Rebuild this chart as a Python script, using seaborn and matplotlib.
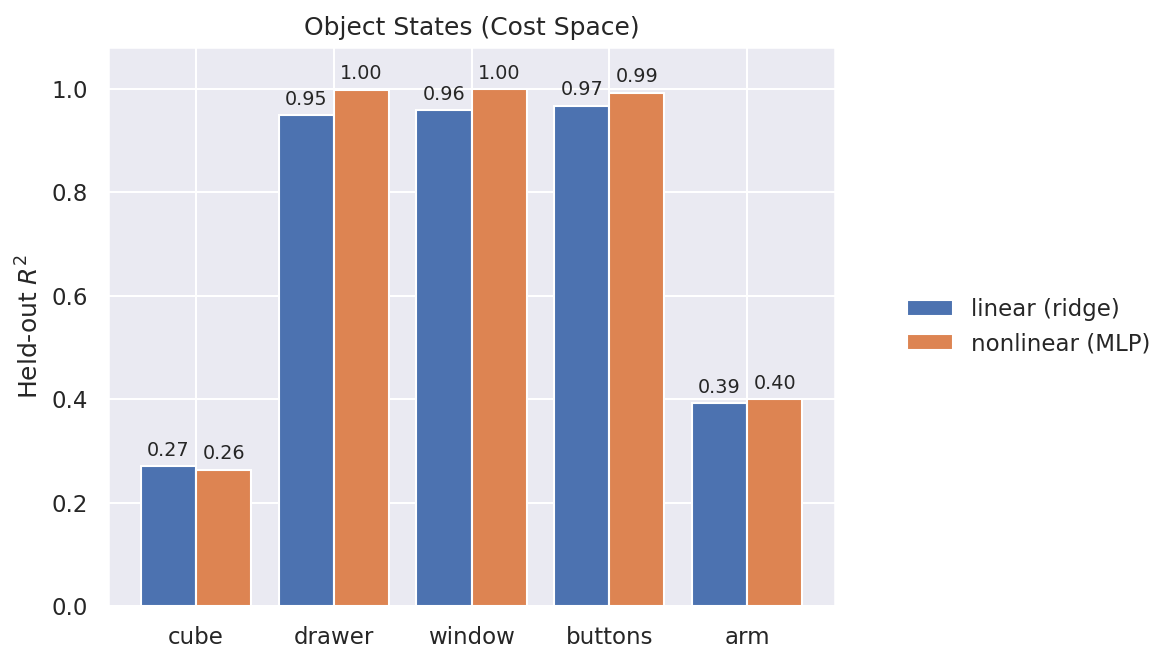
import seaborn as sns
import matplotlib.pyplot as plt
import pandas as pd

sns.set_theme(style="darkgrid", context="notebook")

objects = ["cube", "drawer", "window", "buttons", "arm"]
linear_r2 = [0.270, 0.948, 0.959, 0.967, 0.392]
nonlinear_r2 = [0.264, 0.998, 0.999, 0.992, 0.400]
models = ["linear (ridge)", "nonlinear (MLP)"]

df = pd.DataFrame({
    "object": objects * 2,
    "model": [models[0]] * 5 + [models[1]] * 5,
    "r2": linear_r2 + nonlinear_r2,
})

fig = plt.figure(figsize=(7.82, 4.427), dpi=150)
ax = fig.add_axes([0.092, 0.087, 0.62, 0.842])
sns.barplot(data=df, x="object", y="r2", hue="model", ax=ax,
            edgecolor="white", linewidth=1, saturation=1,
            palette=["#4c72b0", "#dd8452"])

for c in ax.containers:
    ax.bar_label(c, fmt="%.2f", padding=3, fontsize=9.2)

# matplotlib-style margins and x grid like a plain ax.bar chart
ax.set_xlim(-0.64, 4.64)
ax.xaxis.grid(True)
ax.set_ylim(0, 1.08)
ax.set_xlabel("")
ax.set_ylabel("Held-out $R^2$")
ax.set_title("Object States (Cost Space)")
ax.legend(loc="center left", bbox_to_anchor=(1.07, 0.5), frameon=False)

fig.savefig("out.png", dpi=150)
